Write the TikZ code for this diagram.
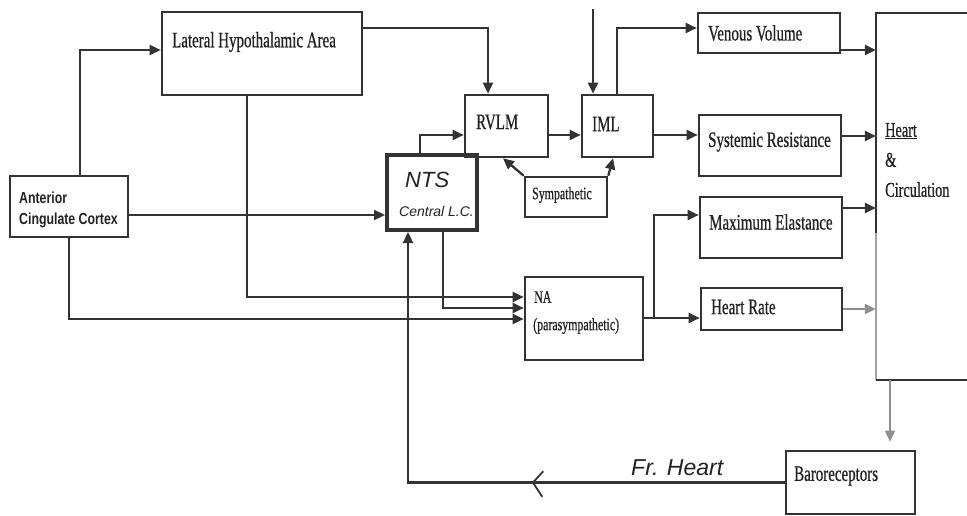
\documentclass[tikz,border=0pt]{standalone}
\usepackage{fontspec}
\setmainfont{Liberation Serif}
\newfontfamily\boxfont[FakeStretch=0.68,FakeBold=0.6]{Liberation Serif}
\newfontfamily\accfont[FakeStretch=0.77]{Liberation Sans}
\newfontfamily\handfont{Liberation Sans}
\usetikzlibrary{arrows.meta,calc}
\definecolor{ink}{HTML}{333333}
\definecolor{txt}{HTML}{222222}
\newcommand\mainlbl{\boxfont\fontsize{22}{24}\selectfont}
\newcommand\smalllbl{\boxfont\fontsize{17.5}{20}\selectfont}
\begin{document}
\begin{tikzpicture}[x=1pt,y=-1pt,
  box/.style={draw=ink, line width=2.6pt, rectangle, inner sep=0pt},
  lbl/.style={text=txt, inner sep=0pt, anchor=west, font=\mainlbl},
  hand/.style={text=txt, inner sep=0pt, anchor=west, font=\handfont\itshape},
  arr/.style={draw=ink, line width=2.3pt, -{Triangle[length=11pt,width=10pt]}},
  faint/.style={draw=ink!55, line width=1.6pt}]
\useasboundingbox (0,0) rectangle (967,516);
\fill[white] (0,0) rectangle (967,516);

% boxes
\node[box, minimum width=118pt, minimum height=61pt] (acc) at (69,206.5) {};
\node[box, minimum width=200pt, minimum height=83pt] (lha) at (262,53.5) {};
\node[box, line width=4pt, minimum width=90pt, minimum height=75pt] (nts) at (432,192.5) {};
\node[box, minimum width=83pt, minimum height=62pt] (rvlm) at (506.5,126) {};
\node[box, minimum width=71pt, minimum height=62pt] (iml) at (617.5,126) {};
\node[box, minimum width=82pt, minimum height=40pt] (symp) at (566,197) {};
\node[box, minimum width=118pt, minimum height=83pt] (na) at (584,318.5) {};
\node[box, minimum width=142pt, minimum height=40pt] (vv) at (769,33) {};
\node[box, minimum width=142pt, minimum height=61pt] (sr) at (770,145.5) {};
\node[box, minimum width=142pt, minimum height=61pt] (me) at (771,227.5) {};
\node[box, minimum width=141pt, minimum height=42pt] (hr) at (771.5,309) {};
\node[box, minimum width=129pt, minimum height=63pt] (baro) at (850.5,482.5) {};
\node[inner sep=0pt, minimum width=91pt, minimum height=367pt] (hc) at (921.5,196.5) {};
\draw[draw=ink, line width=2.2pt] (hc.north east) -- (hc.north west) -- (hc.west |- 0,233);
\draw[draw=ink!45, line width=1.4pt] (hc.west |- 0,233) -- (hc.south west);
\draw[draw=ink, line width=2.2pt] (hc.south west) -- (hc.south east);

% texts
\node[lbl] (lhat) at (172,42) {Lateral Hypothalamic Area};
\node[lbl, align=left, font=\accfont\bfseries\fontsize{16}{21}\selectfont] (acct) at (19,210) {Anterior\\Cingulate Cortex};
\node[hand, font=\handfont\itshape\fontsize{22}{22}\selectfont] (ntst1) at (405,180) {NTS};
\node[hand, font=\handfont\itshape\fontsize{14}{14}\selectfont] (ntst2) at (399,211) {Central L.C.};
\node[lbl] (rvlmt) at (476,122) {RVLM};
\node[lbl] (imlt) at (592,124) {IML};
\node[lbl, font=\smalllbl] (sympt) at (532,195) {Sympathetic};
\node[lbl, font=\smalllbl] (nat1) at (534,297) {NA};
\node[lbl, font=\smalllbl] (nat2) at (533,326) {(parasympathetic)};
\node[lbl] (vvt) at (708,33) {Venous Volume};
\node[lbl] (srt) at (708,142) {Systemic Resistance};
\node[lbl] (met) at (709,222) {Maximum Elastance};
\node[lbl] (hrt) at (711,307) {Heart Rate};
\node[lbl, align=left, font=\boxfont\fontsize{21}{30}\selectfont] (hct) at (885,160) {\underline{Heart}\\\&\\Circulation};
\node[lbl] (barot) at (794,476) {Baroreceptors};
\node[hand, font=\handfont\itshape\fontsize{23}{23}\selectfont] (frt) at (631,468) {Fr. Heart};

% connectors
\draw[arr] ([xshift=11pt]acc.north) |- (lha.west |- 0,50);
\draw[arr] (acc.east |- 0,215) -- (nts.west |- 0,215);
\draw[arr] (acc.south) |- (na.west |- 0,319);
\draw[arr] (lha.south -| 247,0) |- (na.west |- 0,297);
\draw[arr] (nts.south -| 443,0) |- (na.west |- 0,308);
\draw[arr] (baro.west) -| (nts.south -| 408,0);
\coordinate (chev) at (533,482.5);
\draw[draw=ink, line width=1.8pt, line cap=round] ([shift={(10,-11)}]chev) -- (chev) -- ([shift={(9,14)}]chev);
\draw[arr] (nts.north -| 420,0) |- (rvlm.west |- 0,135);
\draw[arr] (lha.east |- 0,28) -| (rvlm.north -| 488,0);
\coordinate (topin) at (593,9);
\draw[arr] (topin) -- (iml.north -| 593,0);
\draw[arr] (rvlm.east |- 0,135) -- (iml.west |- 0,135);
\draw[arr] (symp.north west) -- (rvlm.south -| 503,0);
\draw[arr] (symp.north east) -- (iml.south -| 613,0);
\draw[arr] (iml.north -| 617,0) |- (vv.west |- 0,28);
\draw[arr] (iml.east |- 0,135) -- (sr.west |- 0,135);
\draw[arr] (na.east |- 0,318) -- (hr.west |- 0,318);
\coordinate (nabr) at (654,318);
\draw[arr] (nabr) |- (me.west |- 0,215);
\draw[arr] (vv.east |- 0,50) -- (hc.west |- 0,50);
\draw[arr] (sr.east |- 0,136) -- (hc.west |- 0,136);
\draw[arr] (me.east |- 0,208) -- (hc.west |- 0,208);
\draw[arr, faint] (hr.east |- 0,309) -- (hc.west |- 0,309);
\draw[arr, faint, shorten >=8pt] (hc.south -| 890,0) -- (baro.north -| 890,0);
\end{tikzpicture}
\end{document}
